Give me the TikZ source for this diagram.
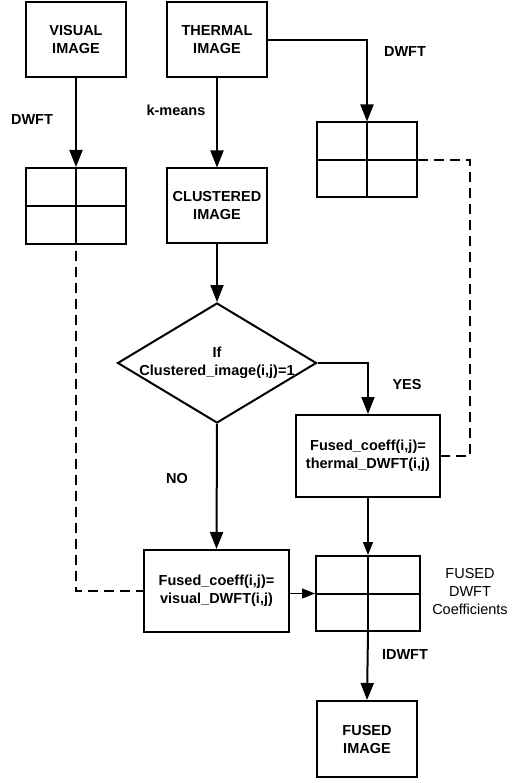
\documentclass[tikz,border=0pt]{standalone}
\usepackage{fontspec}
\setmainfont{Liberation Sans}
\usetikzlibrary{arrows.meta,shapes.geometric}
\begin{document}
\begin{tikzpicture}[x=1pt,y=-1pt,
  font=\fontsize{14.5}{18}\selectfont\bfseries,
  box/.style={draw,line width=2pt,inner sep=0pt,align=center,minimum width=100pt,minimum height=75pt},
  grid/.style={draw,line width=2pt,inner sep=0pt,minimum width=100pt,minimum height=76pt},
  coef/.style={draw,line width=2pt,inner sep=0pt,align=center,minimum width=145pt,minimum height=82pt},
  gline/.style={line width=2pt},
  flow/.style={line width=2pt,-{Triangle[length=17pt,width=13pt]}},
  thinflow/.style={line width=1.2pt,-{Triangle[length=13pt,width=10pt]}},
  dashline/.style={line width=1.3pt,dash pattern=on 10pt off 6pt},
  lbl/.style={inner sep=0pt,align=center}]
\useasboundingbox (0,0) rectangle (514,783);
% nodes
\node[box] (visual) at (76,40) {VISUAL\\IMAGE};
\node[box] (thermal) at (217,40) {THERMAL\\IMAGE};
\node[grid] (vgrid) at (76,206) {};
\node[box] (clustered) at (217,206) {CLUSTERED\\IMAGE};
\node[grid,minimum height=75pt] (rgrid) at (367,160) {};
\node[draw,diamond,line width=2pt,inner sep=0pt,minimum width=199pt,minimum height=120pt] (dia) at (217,363) {};
\node[lbl] (diatext) at (dia.center) {If\\Clustered\_image(i,j)=1};
\node[coef,minimum width=144pt] (tcoeff) at (368,456) {Fused\_coeff(i,j)=\\thermal\_DWFT(i,j)};
\node[coef] (vcoeff) at (216.5,591) {Fused\_coeff(i,j)=\\visual\_DWFT(i,j)};
\node[grid,minimum width=104pt,minimum height=75pt] (fgrid) at (368,593.5) {};
\node[box,minimum height=76pt] (fimage) at (367,739) {FUSED\\IMAGE};
% grid lines
\foreach \g in {vgrid,rgrid,fgrid}{
  \draw[gline] (\g.north) -- (\g.south);
  \draw[gline] (\g.west) -- (\g.east);
}
\coordinate (vtail) at ([yshift=10pt]vgrid.south);
\draw[gline] (vgrid.south) -- (vtail);
% labels
\node[lbl] (l1) at (32,120) {DWFT};
\node[lbl] (l2) at (176,110) {k-means};
\node[lbl] (l3) at (405,52) {DWFT};
\node[lbl] (l4) at (407,385) {YES};
\node[lbl] (l5) at (177,479) {NO};
\node[lbl] (l6) at (405,655) {IDWFT};
\node[lbl,font=\fontsize{14.5}{18}\selectfont] (l7) at (470,592) {FUSED\\DWFT\\Coefficients};
% connectors
\draw[flow] (visual.south) -- (vgrid.north);
\draw[flow] (thermal.south) -- (clustered.north);
\draw[flow] (thermal.east) -| (rgrid.north);
\draw[flow] (clustered.south) -- (dia.north);
\draw[flow] (dia.east) -| (tcoeff.north);
\draw[flow] (dia.south) -- (vcoeff.north);
\draw[thinflow] (tcoeff.south) -- (fgrid.north);
\draw[thinflow] (vcoeff.east |- fgrid.west) -- (fgrid.west);
\draw[flow] (fgrid.south) -- (fimage.north);
\coordinate (rd1) at (470,160);
\coordinate (rd2) at (470,456);
\draw[dashline] (rgrid.east) -- (rd1) -- (rd2) -- (tcoeff.east);
\coordinate (vd1) at (76,591);
\draw[dashline] (vtail) -- (vd1) -- (vcoeff.west);
\end{tikzpicture}
\end{document}
